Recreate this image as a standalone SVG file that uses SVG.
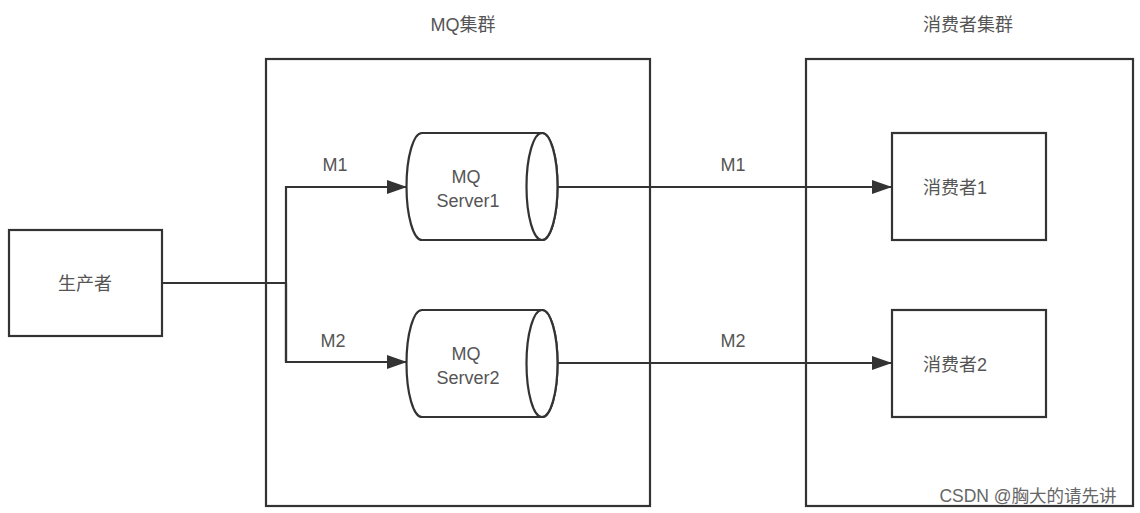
<svg xmlns="http://www.w3.org/2000/svg" width="1140" height="513" viewBox="0 0 1140 513">
<style>
.box{fill:#fff;stroke:#333;stroke-width:2.2}
.ln{fill:none;stroke:#333;stroke-width:2.2}
.t{font-family:"Liberation Sans","Noto Sans CJK SC",sans-serif;font-size:18px;fill:#555;text-anchor:middle}
</style>
<defs>
<marker id="ah" markerWidth="20" markerHeight="14" refX="19" refY="7" orient="auto" markerUnits="userSpaceOnUse">
<path d="M0,0 L20,7 L0,14 Z" fill="#333"/>
</marker>
</defs>
<rect width="1140" height="513" fill="#fff"/>
<g id="mq-cluster">
<rect class="box" x="266" y="59" width="384" height="447"/>
<text class="t" x="463" y="31">MQ集群</text>
</g>
<g id="consumer-cluster">
<rect class="box" x="806" y="59" width="327" height="447"/>
<text class="t" x="968" y="31">消费者集群</text>
</g>
<g id="producer">
<rect class="box" x="9" y="230" width="153" height="106"/>
<text class="t" x="85" y="290">生产者</text>
</g>
<g id="server1">
<path class="box" d="M422,133 L542,133 A15.5,53.5 0 0 1 542,240 L422,240 A15.5,53.5 0 0 1 422,133 Z"/>
<ellipse class="box" cx="542" cy="186.5" rx="15.5" ry="53.5"/>
<text class="t" x="466" y="183">MQ</text>
<text class="t" x="468" y="207">Server1</text>
</g>
<g id="server2">
<path class="box" d="M422,310 L542,310 A15.5,53.5 0 0 1 542,417 L422,417 A15.5,53.5 0 0 1 422,310 Z"/>
<ellipse class="box" cx="542" cy="363.5" rx="15.5" ry="53.5"/>
<text class="t" x="466" y="360">MQ</text>
<text class="t" x="468" y="384">Server2</text>
</g>
<g id="consumer1">
<rect class="box" x="892" y="133" width="154" height="107"/>
<text class="t" x="955" y="194">消费者1</text>
</g>
<g id="consumer2">
<rect class="box" x="892" y="310" width="154" height="107"/>
<text class="t" x="955" y="371">消费者2</text>
</g>
<g id="connectors">
<path class="ln" d="M162,283 L286,283"/>
<path class="ln" d="M286,362 L286,187 L406,187" marker-end="url(#ah)"/>
<path class="ln" d="M286,283 L286,362 L406,362" marker-end="url(#ah)"/>
<path class="ln" d="M558,187 L891,187" marker-end="url(#ah)"/>
<path class="ln" d="M558,363 L891,363" marker-end="url(#ah)"/>
<text class="t" x="335" y="171">M1</text>
<text class="t" x="333" y="347">M2</text>
<text class="t" x="733" y="171">M1</text>
<text class="t" x="733" y="347">M2</text>
</g>
<text class="t" x="1028" y="502" style="font-size:17.5px;fill:#666">CSDN @胸大的请先讲</text>
</svg>
